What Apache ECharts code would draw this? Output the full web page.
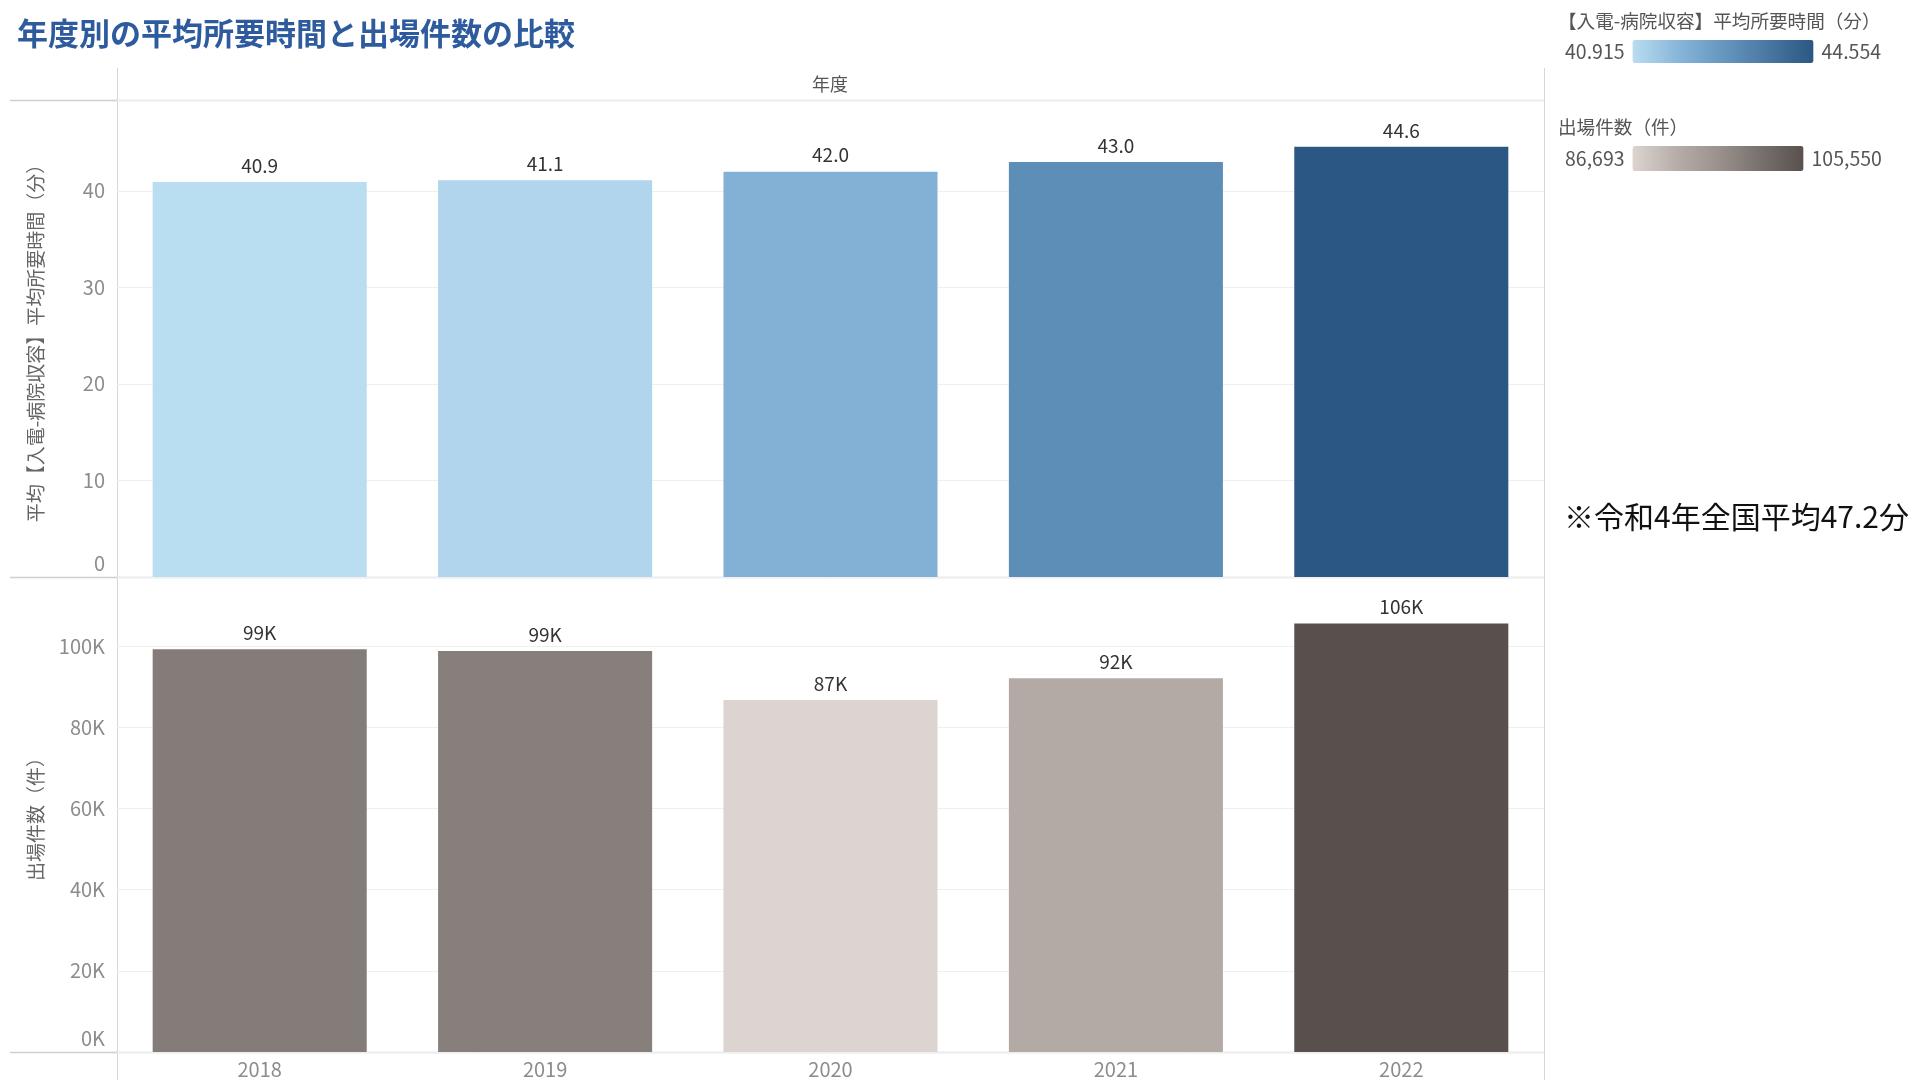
<!DOCTYPE html>
<html lang="ja">
<head>
<meta charset="utf-8">
<title>年度別の平均所要時間と出場件数の比較</title>
<script src="https://cdn.jsdelivr.net/npm/echarts@6/dist/echarts.min.js"></script>
<style>
  html, body { margin: 0; padding: 0; background: #ffffff; }
  #chart { width: 1912px; height: 1080px; }
</style>
</head>
<body>
<div id="chart"></div>
<script>
// 年度（カテゴリ）
const years = ['2018', '2019', '2020', '2021', '2022'];
// 【入電-病院収容】平均所要時間（分）
const avgMinutes = [40.915, 41.09, 41.98, 42.98, 44.554];
// 出場件数（件）
const dispatchCounts = [99200, 98750, 86693, 92040, 105550];

// 軸の範囲と目盛間隔
const timeAxis = { min: 0, max: 49.4, interval: 10 };
const countAxis = { min: 0, max: 117000, interval: 20000 };

// 色のグラデーション（低→高）
const blueRamp = ['#b9ddf1', '#88b6d9', '#6597bf', '#4977a1', '#2a5783'];
const grayRamp = ['#dcd4d0', '#b7aeaa', '#9b928e', '#77706c', '#59504e'];

const FONT = '"Noto Sans CJK JP", "Noto Sans", sans-serif';
const LINE = '#cfcfcf';

const chart = echarts.init(document.getElementById('chart'), null, { renderer: 'canvas' });

const timeMin = Math.min(...avgMinutes);
const timeMax = Math.max(...avgMinutes);
const countMin = Math.min(...dispatchCounts);
const countMax = Math.max(...dispatchCounts);

const fmtComma = v => v.toLocaleString('en-US');

// 最小目盛ラベル（0）は基線の少し上に表示する
const lowLabel = (text, v) => v === 0 ? '{low|' + text + '}' : text;
const axisLabelStyle = {
  color: '#8c8c8c',
  fontFamily: FONT,
  fontSize: 20,
  margin: 12,
  showMaxLabel: false,
  rich: { low: { color: '#8c8c8c', fontFamily: FONT, fontSize: 20, padding: [0, 0, 28, 0] } }
};

const option = {
  backgroundColor: '#ffffff',
  animation: false,
  textStyle: { fontFamily: FONT },
  title: [
    {
      text: '年度別の平均所要時間と出場件数の比較',
      left: 17, top: 18, padding: 0,
      textStyle: { color: '#2d5b9e', fontSize: 31, fontWeight: 'bold', fontFamily: FONT }
    },
    {
      text: '年度',
      left: 830, top: 84, padding: 0, textAlign: 'center', textVerticalAlign: 'middle',
      textStyle: { color: '#555555', fontSize: 18, fontWeight: 'normal', fontFamily: FONT }
    },
    {
      text: '【入電-病院収容】平均所要時間（分）',
      left: 1558, top: 12, padding: 0,
      textStyle: { color: '#555555', fontSize: 18.6, fontWeight: 'normal', fontFamily: FONT }
    },
    {
      text: '出場件数（件）',
      left: 1558, top: 118, padding: 0,
      textStyle: { color: '#555555', fontSize: 18.6, fontWeight: 'normal', fontFamily: FONT }
    },
    {
      text: '※令和4年全国平均47.2分',
      left: 1564, top: 502, padding: 0,
      textStyle: { color: '#111111', fontSize: 30, fontWeight: 'normal', fontFamily: FONT }
    }
  ],
  visualMap: [
    {
      type: 'continuous',
      seriesIndex: 0,
      dimension: 1,
      min: timeMin, max: timeMax,
      orient: 'horizontal',
      left: 1565, top: 40,
      padding: 0,
      itemWidth: 23, itemHeight: 181,
      textGap: 8,
      calculable: false,
      hoverLink: false,
      text: [timeMax.toFixed(3), timeMin.toFixed(3)],
      textStyle: { color: '#555555', fontSize: 19.5, fontFamily: FONT },
      inRange: { color: blueRamp }
    },
    {
      type: 'continuous',
      seriesIndex: 1,
      dimension: 1,
      min: countMin, max: countMax,
      orient: 'horizontal',
      left: 1565, top: 146,
      padding: 0,
      itemWidth: 25, itemHeight: 171,
      textGap: 8,
      calculable: false,
      hoverLink: false,
      text: [fmtComma(countMax), fmtComma(countMin)],
      textStyle: { color: '#555555', fontSize: 19.5, fontFamily: FONT },
      inRange: { color: grayRamp }
    }
  ],
  grid: [
    { left: 117, right: 368, top: 100, height: 477, outerBoundsMode: 'none' },
    { left: 117, right: 368, top: 577, height: 475, outerBoundsMode: 'none' }
  ],
  xAxis: [
    {
      type: 'category', gridIndex: 0, data: years,
      axisLine: { show: false }, axisTick: { show: false }, axisLabel: { show: false }
    },
    {
      type: 'category', gridIndex: 1, data: years,
      axisLine: { show: false }, axisTick: { show: false },
      axisLabel: { color: '#8c8c8c', fontFamily: FONT, fontSize: 20, margin: 7 }
    }
  ],
  yAxis: [
    {
      type: 'value', gridIndex: 0,
      min: timeAxis.min, max: timeAxis.max, interval: timeAxis.interval,
      name: '平均【入電-病院収容】平均所要時間（分）',
      nameLocation: 'middle', nameRotate: 90, nameGap: 72,
      nameTextStyle: { color: '#666666', fontSize: 19, fontFamily: FONT },
      axisLine: { show: false }, axisTick: { show: false },
      splitLine: { show: true, lineStyle: { color: '#efefef', width: 1 } },
      axisLabel: Object.assign({}, axisLabelStyle, {
        formatter: v => lowLabel(String(v), v)
      })
    },
    {
      type: 'value', gridIndex: 1,
      min: countAxis.min, max: countAxis.max, interval: countAxis.interval,
      name: '出場件数（件）',
      nameLocation: 'middle', nameRotate: 90, nameGap: 72,
      nameTextStyle: { color: '#666666', fontSize: 19, fontFamily: FONT },
      axisLine: { show: false }, axisTick: { show: false },
      splitLine: { show: true, lineStyle: { color: '#efefef', width: 1 } },
      axisLabel: Object.assign({}, axisLabelStyle, {
        formatter: v => lowLabel((v / 1000) + 'K', v)
      })
    }
  ],
  series: [
    {
      name: '平均所要時間',
      type: 'bar',
      xAxisIndex: 0, yAxisIndex: 0,
      data: avgMinutes,
      barCategoryGap: '25%',
      label: {
        show: true, position: 'top', distance: 7,
        color: '#333333', fontSize: 19, fontFamily: FONT,
        formatter: p => p.value.toFixed(1)
      }
    },
    {
      name: '出場件数',
      type: 'bar',
      xAxisIndex: 1, yAxisIndex: 1,
      data: dispatchCounts,
      barCategoryGap: '25%',
      label: {
        show: true, position: 'top', distance: 7,
        color: '#333333', fontSize: 19, fontFamily: FONT,
        formatter: p => Math.round(p.value / 1000) + 'K'
      }
    }
  ],
  // パネルの区切り線
  graphic: [
    { type: 'line', shape: { x1: 10, y1: 100.5, x2: 1544, y2: 100.5 }, style: { stroke: LINE, lineWidth: 1.5 }, silent: true },
    { type: 'line', shape: { x1: 10, y1: 577.5, x2: 1544, y2: 577.5 }, style: { stroke: LINE, lineWidth: 1.5 }, silent: true },
    { type: 'line', shape: { x1: 10, y1: 1052.5, x2: 1544, y2: 1052.5 }, style: { stroke: LINE, lineWidth: 1.5 }, silent: true },
    { type: 'line', shape: { x1: 117.5, y1: 68, x2: 117.5, y2: 1080 }, style: { stroke: '#d6d6d6', lineWidth: 1 }, silent: true },
    { type: 'line', shape: { x1: 1544.5, y1: 68, x2: 1544.5, y2: 1080 }, style: { stroke: '#d6d6d6', lineWidth: 1 }, silent: true }
  ]
};

chart.setOption(option);
</script>
</body>
</html>
